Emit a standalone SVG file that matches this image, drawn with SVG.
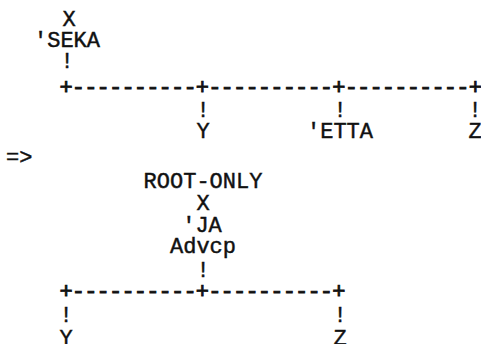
<svg xmlns="http://www.w3.org/2000/svg" width="481" height="344" viewBox="0 0 481 344">
  <style>
    text { font-family: "Liberation Mono", "Courier New", monospace; font-size: 22px; fill: #111; stroke: #111; stroke-width: 0.45px; }
    .c { text-anchor: middle; }
    .rule { letter-spacing: -0.8px; stroke-width: 0.9px; }
  </style>
  <rect width="481" height="344" fill="#fff"/>

  <!-- upper tree -->
  <g id="top-root">
    <text class="c" x="69" y="26">X</text>
    <text class="c" x="67" y="47">'SEKA</text>
  </g>
  <g id="top-y"><text class="c" x="203" y="138">Y</text></g>
  <g id="top-etta"><text class="c" x="340" y="138">'ETTA</text></g>
  <g id="top-z"><text class="c" x="475" y="138">Z</text></g>

  <!-- rewrite arrow -->
  <g id="arrow"><text x="6" y="164">=&gt;</text></g>

  <!-- lower tree -->
  <g id="bottom-root">
    <text class="c" x="203" y="188">ROOT-ONLY</text>
    <text class="c" x="203" y="210">X</text>
    <text class="c" x="202" y="232">'JA</text>
    <text class="c" x="203" y="253">Advcp</text>
  </g>
  <g id="bottom-y"><text class="c" x="66" y="345">Y</text></g>
  <g id="bottom-z"><text class="c" x="340" y="345">Z</text></g>

  <!-- branch lines drawn with ! + and - -->
  <g id="connectors">
    <text class="c" x="67" y="68">!</text>
    <text class="rule" x="59.4" y="94">+----------+----------+----------+</text>
    <text class="c" x="203" y="117">!</text>
    <text class="c" x="340" y="117">!</text>
    <text class="c" x="475" y="117">!</text>

    <text class="c" x="203" y="277">!</text>
    <text class="rule" x="59.4" y="298">+----------+----------+</text>
    <text class="c" x="66" y="322">!</text>
    <text class="c" x="340" y="322">!</text>
  </g>
</svg>
